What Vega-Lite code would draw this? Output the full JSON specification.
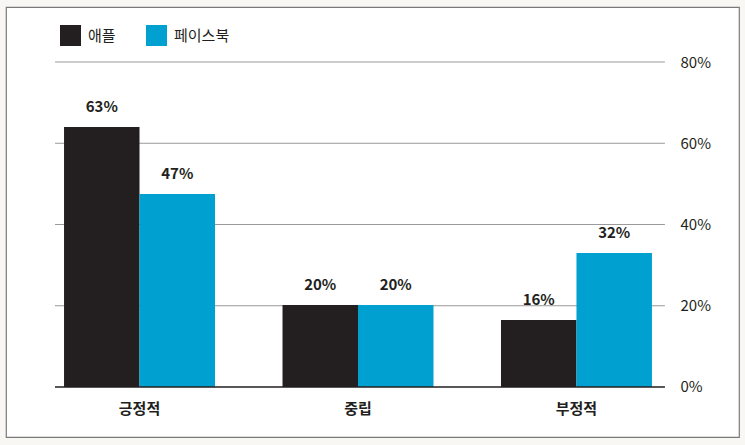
{
  "$schema": "https://vega.github.io/schema/vega-lite/v6.json",
  "autosize": "none",
  "width": 733,
  "height": 430,
  "padding": {"left": 6, "top": 7, "right": 6, "bottom": 8},
  "background": "#f8f7f4",
  "config": {
    "font": "Noto Sans CJK KR",
    "view": {"fill": "white", "stroke": "#7a7a7a", "strokeWidth": 1.2}
  },
  "data": {
    "values": [
      {"group": "긍정적", "series": "애플", "value": 64, "label": "63%"},
      {"group": "긍정적", "series": "페이스북", "value": 47.5, "label": "47%"},
      {"group": "중립", "series": "애플", "value": 20.2, "label": "20%"},
      {"group": "중립", "series": "페이스북", "value": 20.2, "label": "20%"},
      {"group": "부정적", "series": "애플", "value": 16.5, "label": "16%"},
      {"group": "부정적", "series": "페이스북", "value": 33, "label": "32%"}
    ]
  },
  "encoding": {
    "x": {
      "field": "group",
      "type": "nominal",
      "sort": ["긍정적", "중립", "부정적"],
      "scale": {"paddingInner": 0.309, "paddingOuter": 0.332, "align": 0.4},
      "axis": {
        "title": null,
        "orient": "bottom",
        "offset": -50,
        "domain": false,
        "ticks": false,
        "grid": false,
        "labelAngle": 0,
        "labelPadding": 14,
        "labelFontSize": 15,
        "labelFontWeight": "bold",
        "labelColor": "#231f20"
      }
    },
    "y": {
      "field": "value",
      "type": "quantitative",
      "scale": {"domain": [-12.31, 93.54], "nice": false, "zero": false},
      "axis": {
        "title": null,
        "orient": "right",
        "offset": -74,
        "values": [0, 20, 40, 60, 80],
        "labelExpr": "datum.value + '%'",
        "domain": false,
        "ticks": false,
        "grid": false,
        "labelPadding": 15,
        "labelFontSize": 15,
        "labelColor": "#231f20"
      }
    }
  },
  "layer": [
    {
      "data": {"values": [{"v": 20}, {"v": 40}, {"v": 60}, {"v": 80}]},
      "mark": {"type": "rule", "color": "#9a9a9a", "strokeWidth": 1},
      "encoding": {
        "x": {"datum": "긍정적", "type": "nominal", "bandPosition": -0.06},
        "x2": {"datum": "부정적", "bandPosition": 1.086},
        "y": {"field": "v", "type": "quantitative"}
      }
    },
    {
      "mark": {"type": "bar", "stroke": null},
      "encoding": {
        "xOffset": {
          "field": "series",
          "type": "nominal",
          "scale": {"paddingInner": 0, "paddingOuter": 0}
        },
        "y2": {"datum": 0},
        "color": {
          "field": "series",
          "type": "nominal",
          "scale": {"domain": ["애플", "페이스북"], "range": ["#231f20", "#00a0d0"]},
          "legend": {
            "title": null,
            "orient": "none",
            "legendX": 54,
            "legendY": 18,
            "direction": "horizontal",
            "symbolType": "square",
            "symbolSize": 441,
            "symbolStrokeWidth": 0,
            "symbolOpacity": 1,
            "labelFontSize": 15,
            "labelColor": "#231f20",
            "labelOffset": 7,
            "columnPadding": 30,
            "padding": 0
          }
        }
      }
    },
    {
      "data": {"values": [{"v": 0}]},
      "mark": {"type": "rule", "color": "#231f20", "strokeWidth": 1.3},
      "encoding": {
        "x": {"datum": "긍정적", "type": "nominal", "bandPosition": -0.06},
        "x2": {"datum": "부정적", "bandPosition": 1.086},
        "y": {"field": "v", "type": "quantitative"}
      }
    },
    {
      "mark": {
        "type": "text",
        "baseline": "alphabetic",
        "dy": -15,
        "fontSize": 15,
        "fontWeight": "bold",
        "color": "#231f20"
      },
      "encoding": {
        "xOffset": {"field": "series", "type": "nominal"},
        "text": {"field": "label", "type": "nominal"}
      }
    }
  ]
}
